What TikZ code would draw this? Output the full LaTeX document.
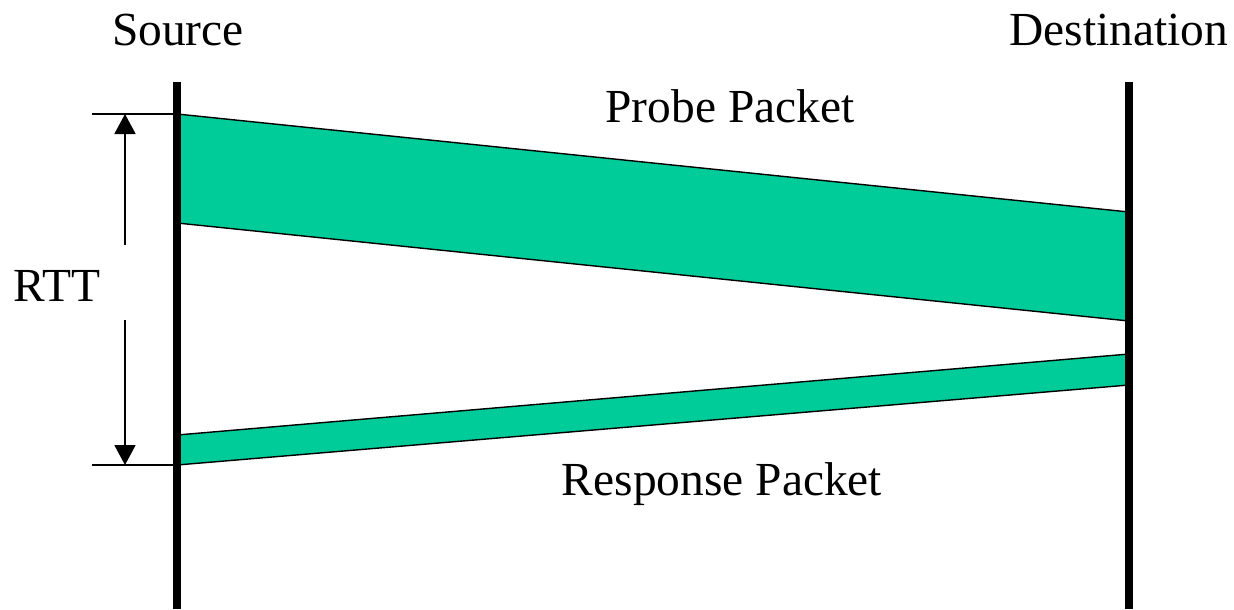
\documentclass[tikz,border=0pt]{standalone}
\usepackage{fontspec}
\setmainfont{Liberation Serif}
\usepackage{tikz}
\usetikzlibrary{arrows.meta,positioning,calc}
\definecolor{packetgreen}{RGB}{0,204,153}

\begin{document}
\begin{tikzpicture}[
    x=0.02cm, y=-0.02cm,
    label/.style={font=\fontsize{27}{30}\selectfont, anchor=base, inner sep=0pt},
    hostline/.style={line width=4.5pt},
    packet/.style={fill=packetgreen, draw=black, line width=0.8pt},
    tick/.style={line width=1.1pt},
    rttarrow/.style={-{Triangle[length=0.4cm, width=0.42cm]}, line width=1.1pt}
]
\useasboundingbox (0,0) rectangle (1234,609);

\node[label] (src) at (178,45) {Source};
\node[label] (dst) at (1119,45) {Destination};
\node[label] (probe) at (730,122) {Probe Packet};
\node[label] (resp) at (722,495) {Response Packet};
\node[label] (rtt) at (57,301) {RTT};

\coordinate (srctop) at (177,82);
\coordinate (srcbot) at (177,609);
\coordinate (dsttop) at (1129,82);
\coordinate (dstbot) at (1129,609);

% packets
\fill[packetgreen] (177,114) -- (1129,212) -- (1129,321) -- (177,223) -- cycle;
\draw[line width=0.8pt] (177,114) -- (1129,212);
\draw[line width=0.8pt] (177,223) -- (1129,321);
\fill[packetgreen] (177,435) -- (1129,354) -- (1129,385) -- (177,465) -- cycle;
\draw[line width=0.8pt] (177,435) -- (1129,354);
\draw[line width=0.8pt] (177,465) -- (1129,385);

\draw[hostline] (srctop) -- (srcbot);
\draw[hostline] (dsttop) -- (dstbot);

% RTT marker
\coordinate (tickup) at (125,114);
\coordinate (tickdown) at (125,465);
\coordinate (gapup) at (125,245);
\coordinate (gapdown) at (125,320);
\draw[tick] (92,114) -- (177,114);
\draw[tick] (92,465) -- (177,465);
\draw[rttarrow] (gapup) -- (tickup);
\draw[rttarrow] (gapdown) -- (tickdown);
\end{tikzpicture}
\end{document}
